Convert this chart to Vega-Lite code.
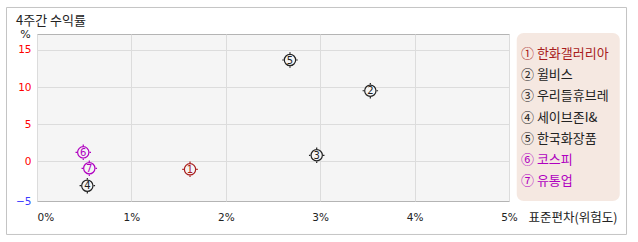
{
  "$schema": "https://vega.github.io/schema/vega-lite/v6.json",
  "autosize": "none",
  "width": 472,
  "height": 167,
  "padding": {"left": 37, "top": 34, "right": 129, "bottom": 41},
  "background": "#ffffff",
  "config": {
    "view": {"fill": "#f5f5f5", "stroke": "#b4b4b4"},
    "font": "Noto Sans CJK KR"
  },
  "data": {"values": [
    {"id": 1, "tag": "1", "name": "한화갤러리아", "legend": "① 한화갤러리아", "sd": 1.621, "ret": -1.08},
    {"id": 2, "tag": "2", "name": "윌비스", "legend": "② 윌비스", "sd": 3.531, "ret": 9.51},
    {"id": 3, "tag": "3", "name": "우리들휴브레", "legend": "③ 우리들휴브레", "sd": 2.963, "ret": 0.81},
    {"id": 4, "tag": "4", "name": "세이브존I&", "legend": "④ 세이브존I&", "sd": 0.533, "ret": -3.29},
    {"id": 5, "tag": "5", "name": "한국화장품", "legend": "⑤ 한국화장품", "sd": 2.68, "ret": 13.65},
    {"id": 6, "tag": "6", "name": "코스피", "legend": "⑥ 코스피", "sd": 0.49, "ret": 1.21},
    {"id": 7, "tag": "7", "name": "유통업", "legend": "⑦ 유통업", "sd": 0.554, "ret": -0.94}
  ]},
  "layer": [
    {
      "layer": [
        {
          "data": {"values": [{"box": "frame"}]},
          "mark": {"type": "rect", "fill": null, "stroke": "#c4c4c4", "strokeWidth": 1, "clip": false},
          "encoding": {
            "x": {"datum": -0.323, "type": "quantitative"},
            "x2": {"datum": 6.245},
            "y": {"datum": 20.73, "type": "quantitative"},
            "y2": {"datum": -9.86}
          }
        },
        {
          "data": {"values": [{"box": "legend"}]},
          "mark": {"type": "rect", "fill": "#f5e8e1", "cornerRadius": 7, "clip": false},
          "encoding": {
            "x": {"datum": 5.082, "type": "quantitative"},
            "x2": {"datum": 6.173},
            "y": {"datum": 17.295, "type": "quantitative"},
            "y2": {"datum": -5.35}
          }
        },
        {
          "data": {"values": [{"title": "4주간 수익률"}]},
          "mark": {"type": "text", "font": "Noto Sans CJK KR", "fontSize": 13, "fontWeight": "normal", "align": "left", "baseline": "middle", "color": "#222222", "clip": false},
          "encoding": {
            "x": {"datum": -0.2225, "type": "quantitative"},
            "y": {"datum": 18.975, "type": "quantitative"},
            "text": {"field": "title"}
          }
        },
        {
          "mark": {"type": "point", "shape": "circle", "size": 128, "filled": false, "fill": "#f5f5f5", "fillOpacity": 1, "strokeWidth": 1.2, "opacity": 1},
          "encoding": {
            "x": {"field": "sd", "type": "quantitative", "scale": {"domain": [0, 5], "nice": false, "zero": false},
              "axis": {"values": [0, 1, 2, 3, 4, 5], "labelExpr": "datum.value + '%'", "grid": true, "gridColor": "#dcdcdc", "domain": false, "ticks": false,
                "labelPadding": 16, "labelBaseline": "middle", "labelFont": "DejaVu Sans", "labelFontSize": 10.5, "labelColor": "#222222", "labelDx": 2,
                "labelAlign": {"condition": {"test": "datum.value == 0", "value": "left"}, "value": "center"},
                "title": "표준편차(위험도)", "titleX": 491, "titleY": 16, "titleAlign": "left", "titleBaseline": "middle", "titleFontWeight": "normal", "titleFontSize": 12.5, "titleColor": "#222222", "titleFont": "Noto Sans CJK KR"}},
            "y": {"field": "ret", "type": "quantitative", "scale": {"domain": [-5.35, 17.156], "nice": false, "zero": false},
              "axis": {"values": [-5, 0, 5, 10, 15], "grid": true, "gridColor": "#dcdcdc", "gridOpacity": {"condition": {"test": "datum.value == -5", "value": 0}, "value": 1}, "domain": false, "ticks": false,
                "labelPadding": 6, "labelFont": "DejaVu Sans", "labelFontSize": 10.5, "labelBaseline": "middle",
                "labelOffset": {"condition": {"test": "datum.value == -5", "value": 3}, "value": 0},
                "labelColor": {"condition": {"test": "datum.value < 0", "value": "#3b3bff"}, "value": "#ff0000"},
                "title": "%", "titleAngle": 0, "titleX": -12, "titleY": 0, "titleAlign": "center", "titleBaseline": "middle", "titleFontWeight": "normal", "titleFontSize": 11, "titleColor": "#222222", "titleFont": "DejaVu Sans"}},
            "color": {"field": "name", "type": "nominal", "legend": null,
              "scale": {"domain": ["한화갤러리아", "윌비스", "우리들휴브레", "세이브존I&", "한국화장품", "코스피", "유통업"],
                        "range": ["#a81c1c", "#222222", "#222222", "#222222", "#222222", "#b000c0", "#b000c0"]}}
          }
        },
        {
          "mark": {"type": "point", "shape": "M0,-1V-0.8M0,0.8V1M-1,0H-0.8M0.8,0H1", "size": 240, "filled": false, "strokeWidth": 1.2, "opacity": 1},
          "encoding": {
            "x": {"field": "sd", "type": "quantitative"},
            "y": {"field": "ret", "type": "quantitative"},
            "color": {"field": "name", "type": "nominal", "legend": null}
          }
        },
        {
          "mark": {"type": "text", "font": "DejaVu Sans", "fontSize": 10, "align": "center", "baseline": "middle", "dy": 0.5},
          "encoding": {
            "x": {"field": "sd", "type": "quantitative"},
            "y": {"field": "ret", "type": "quantitative"},
            "text": {"field": "tag"},
            "color": {"field": "name", "type": "nominal", "legend": null}
          }
        }
      ]
    },
    {
      "mark": {"type": "text", "font": "Noto Sans CJK KR", "fontSize": 13, "align": "left", "baseline": "middle", "clip": false},
      "encoding": {
        "x": {"datum": 5.127, "type": "quantitative"},
        "y": {"field": "name", "type": "nominal", "sort": {"field": "id"}, "scale": {"type": "point", "padding": 0.945}, "axis": null},
        "text": {"field": "legend"},
        "color": {"field": "name", "type": "nominal", "legend": null}
      }
    }
  ],
  "resolve": {"scale": {"y": "independent"}}
}
